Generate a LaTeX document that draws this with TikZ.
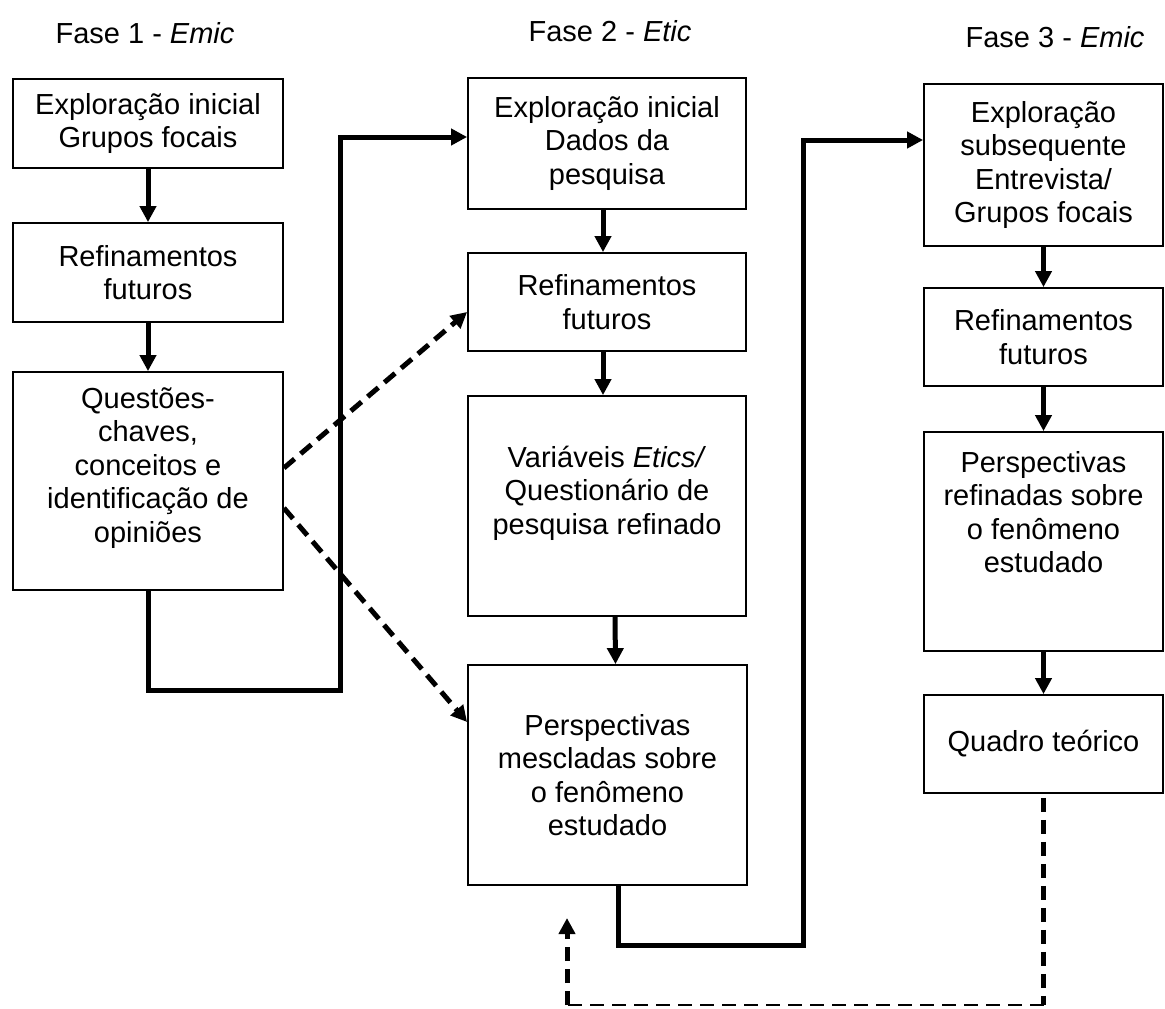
\documentclass[tikz,border=0pt]{standalone}
\usepackage{fontspec}
\setmainfont{Liberation Sans}
\usetikzlibrary{arrows.meta}
\begin{document}
\begin{tikzpicture}[x=1pt,y=-1pt,
  stagebox/.style={draw=black, line width=1.8pt, inner sep=0pt, align=center,
    font=\fontsize{29}{33.5}\selectfont},
  txt/.style={inner sep=0pt, align=center, font=\fontsize{29}{33.5}\selectfont},
  flow/.style={line width=5pt, -{Triangle[length=16pt,width=16pt]}},
  backline/.style={line width=5pt, dash pattern=on 14pt off 8pt},
  feedback/.style={backline, -{Triangle[length=16pt,width=16pt]}},
]
\useasboundingbox (0,0) rectangle (1165,1009);

% phase headings
\node (p1) [txt] at (145,33) {Fase 1 - \textit{Emic}};
\node (p2) [txt] at (610,31) {Fase 2 - \textit{Etic}};
\node (p3) [txt] at (1055,37) {Fase 3 - \textit{Emic}};

% phase 1
\node (A) [stagebox, minimum width=270pt, minimum height=89pt] at (148,123.5)
  {Exploração inicial\\Grupos focais};
\node (B) [stagebox, minimum width=270pt, minimum height=99pt] at (148,272.5)
  {Refinamentos\\futuros};
\node (C) [stagebox, minimum width=270pt, minimum height=218pt] at (148,481) {};
\node (Ct) [txt] at (148,468)
  {Questões-\\chaves,\\conceitos e\\identificação de\\opiniões};

% phase 2
\node (D) [stagebox, minimum width=278pt, minimum height=131pt] at (607,143.5)
  {Exploração inicial\\Dados da\\pesquisa};
\node (E) [stagebox, minimum width=278pt, minimum height=98pt] at (607,302)
  {Refinamentos\\futuros};
\node (F) [stagebox, minimum width=278pt, minimum height=220pt] at (607,506) {};
\node (Ft) [txt] at (607,493)
  {Variáveis \textit{Etics/}\\Questionário de\\pesquisa refinado};
\node (G) [stagebox, minimum width=279pt, minimum height=220pt] at (607.5,775)
  {Perspectivas\\mescladas sobre\\o fenômeno\\estudado};

% phase 3
\node (H) [stagebox, minimum width=239pt, minimum height=162pt] at (1043.5,165)
  {Exploração\\subsequente\\Entrevista/\\Grupos focais};
\node (I) [stagebox, minimum width=239pt, minimum height=98pt] at (1043.5,337)
  {Refinamentos\\futuros};
\node (J) [stagebox, minimum width=239pt, minimum height=219pt] at (1043.5,541.5) {};
\node (Jt) [txt] at (1043.5,512)
  {Perspectivas\\refinadas sobre\\o fenômeno\\estudado};
\node (K) [stagebox, minimum width=239pt, minimum height=98pt] at (1043.5,744)
  {Quadro teórico};

% flow inside each phase
\draw[flow] (A) -- (B);
\draw[flow] (B) -- (C);
\draw[flow] ([xshift=-4pt]D.south) -- ([xshift=-4pt]E.north);
\draw[flow] ([xshift=-4pt]E.south) -- ([xshift=-4pt]F.north);
\draw[flow] ([xshift=8pt]F.south) -- ([xshift=8pt]G.north);
\draw[flow] (H) -- (I);
\draw[flow] (I) -- (J);
\draw[flow] (J) -- (K);

% transitions between phases
\coordinate (c1) at (340,690);
\draw[flow] (C.south) |- (c1) |- ([yshift=6.5pt]D.west);
\coordinate (c2) at (803,945);
\draw[flow] ([xshift=10.5pt]G.south) |- (c2) |- ([yshift=25pt]H.west);

% dashed links from phase 1 into phase 2
\draw[feedback] ([yshift=13pt]C.east) -- ([yshift=-10pt]E.west);
\draw[feedback] ([yshift=-27pt]C.east) -- ([yshift=53pt]G.west);

% return path from the theoretical framework
\coordinate (r1) at (1043.5,1005);
\coordinate (r2) at (567,1005);
\coordinate (r3) at (567,918);
\draw[backline] ([yshift=-4pt]K.south) -- (r1);
\draw[line width=2pt, dash pattern=on 14pt off 8pt] (r1) -- (r2);
\draw[feedback] (r2) -- (r3);
\end{tikzpicture}
\end{document}
